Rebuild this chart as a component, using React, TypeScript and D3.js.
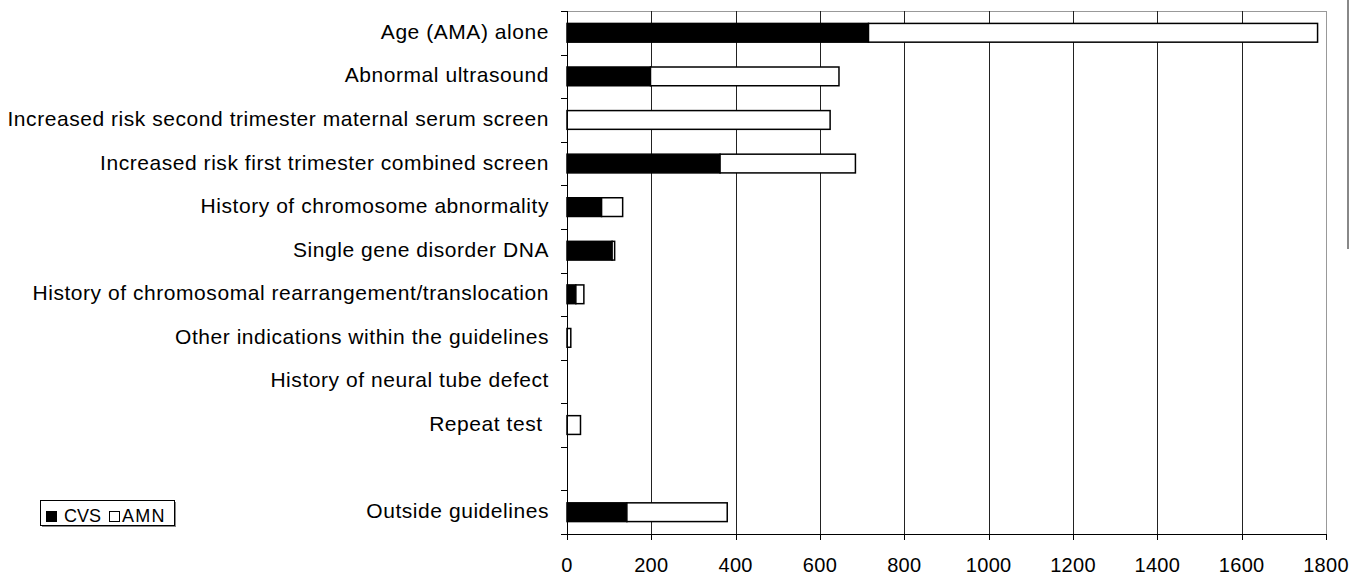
import React from "react";
import * as d3 from "d3";

// Indications for invasive prenatal testing, counts by procedure
const categories = [
  "Age (AMA) alone",
  "Abnormal ultrasound",
  "Increased risk second trimester maternal serum screen",
  "Increased risk first trimester combined screen",
  "History of chromosome abnormality",
  "Single gene disorder DNA",
  "History of chromosomal rearrangement/translocation",
  "Other indications within the guidelines",
  "History of neural tube defect",
  "Repeat test ",
  "",
  "Outside guidelines",
];
const cvsValues = [715, 198, 0, 363, 82, 107, 21, 0, 0, 0, 0, 142];
const amnValues = [1065, 447, 624, 321, 50, 6, 19, 9, 0, 32, 0, 238];
const xTicks = [0, 200, 400, 600, 800, 1000, 1200, 1400, 1600, 1800];
const seriesNames = ["CVS", "AMN"];

const W = 1364;
const H = 575;
const FONT = "Arial, 'Liberation Sans', sans-serif";

export default function App() {
  const left = 567;
  const right = 1326;
  const top = 11;
  const bottom = 534;

  const x = d3.scaleLinear().domain([0, 1800]).range([left, right]);
  const y = d3
    .scaleBand<number>()
    .domain(d3.range(categories.length))
    .range([top, bottom])
    .paddingInner(0.57)
    .paddingOuter(0.285);
  const band = (bottom - top) / categories.length;

  const stacked = categories.map((_, i) => {
    const c = cvsValues[i];
    const a = amnValues[i];
    return { i, segs: [{ x0: 0, x1: c, fill: "#000" }, { x0: c, x1: c + a, fill: "#fff" }] };
  });

  return (
    <svg width={W} height={H} style={{ position: "absolute", left: 0, top: 0, background: "#fff" }} fontFamily={FONT}>
      {/* plot frame */}
      <line x1={left} x2={right} y1={top + 0.5} y2={top + 0.5} stroke="#999" />
      <line x1={right + 0.5} x2={right + 0.5} y1={top} y2={bottom} stroke="#999" />
      {/* vertical gridlines */}
      {xTicks.slice(1, -1).map((t) => (
        <line key={t} x1={Math.round(x(t)) + 0.5} x2={Math.round(x(t)) + 0.5} y1={top} y2={bottom} stroke="#222" />
      ))}
      {/* bars */}
      {stacked.map((d) =>
        d.segs.map((s, k) =>
          s.x1 - s.x0 > 0 ? (
            <rect
              key={`${d.i}-${k}`}
              x={x(s.x0)}
              y={y(d.i)!}
              width={x(s.x1) - x(s.x0)}
              height={y.bandwidth()}
              fill={s.fill}
              stroke="#000"
              strokeWidth={1.5}
            />
          ) : null
        )
      )}
      {/* category axis */}
      <line x1={left + 0.5} x2={left + 0.5} y1={top} y2={bottom} stroke="#000" />
      {d3.range(categories.length + 1).map((k) => (
        <line key={k} x1={left - 6} x2={left} y1={Math.round(top + k * band) + 0.5} y2={Math.round(top + k * band) + 0.5} stroke="#000" />
      ))}
      {categories.map((c, i) => (
        <text
          key={i}
          x={549}
          y={y(i)! + y.bandwidth() / 2 + 6}
          textAnchor="end"
          fontSize={21}
          letterSpacing={0.55}
          fill="#000"
          xmlSpace="preserve"
        >
          {c}
        </text>
      ))}
      {/* value axis */}
      <line x1={left} x2={right} y1={bottom + 0.5} y2={bottom + 0.5} stroke="#000" />
      {xTicks.map((t) => (
        <g key={t}>
          <line x1={Math.round(x(t)) + 0.5} x2={Math.round(x(t)) + 0.5} y1={bottom} y2={bottom + 6} stroke="#000" />
          <text x={x(t)} y={572} textAnchor="middle" fontSize={20} letterSpacing={0.3} fill="#000">
            {t}
          </text>
        </g>
      ))}
      {/* legend */}
      <rect x={42} y={502} width={134} height={25} fill="#888" />
      <rect x={40.5} y={500.5} width={134} height={25} fill="#fff" stroke="#000" />
      <rect x={46.5} y={511.5} width={10} height={10} fill="#000" stroke="#000" />
      <text x={64} y={522} fontSize={18} fill="#000">{seriesNames[0]}</text>
      <rect x={109.5} y={511.5} width={10} height={10} fill="#fff" stroke="#000" />
      <text x={122} y={522} fontSize={18} letterSpacing={1.3} fill="#000">{seriesNames[1]}</text>
      {/* edge rule */}
      <line x1={1348} x2={1348} y1={0} y2={249} stroke="#888" strokeWidth={2} />
    </svg>
  );
}
